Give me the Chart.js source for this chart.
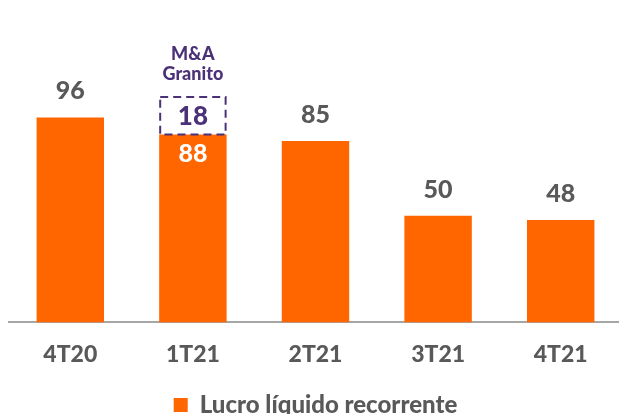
<!DOCTYPE html>
<html lang="pt-BR">
<head>
<meta charset="utf-8">
<title>Lucro líquido recorrente</title>
<script src="https://cdn.jsdelivr.net/npm/chart.js@4/dist/chart.umd.min.js"></script>
<style>
  html, body { margin: 0; padding: 0; background: #fff; overflow: hidden; }
  #wrap { width: 623px; height: 414px; }
</style>
</head>
<body>
<div id="wrap"><canvas id="grafico" width="623" height="414"></canvas></div>
<script>
// --- DADOS ---
const trimestres = ['4T20', '1T21', '2T21', '3T21', '4T21'];
const lucroRecorrente = [96, 88, 85, 50, 48];
const mnaGranito = [null, 18, null, null, null];
const rotuloGranito = ['M&A', 'Granito'];

const LARANJA = '#ff6600';
const CINZA = '#595959';
const ROXO = '#4b3178';
const FONTE = 'Lato';

// --- RÓTULOS E CAIXA TRACEJADA ---
const rotulosPlugin = {
    id: 'rotulos',
    afterDatasetsDraw(chart) {
        const ctx = chart.ctx;
        const barras = chart.getDatasetMeta(0).data;
        const extras = chart.getDatasetMeta(1).data;
        ctx.save();
        ctx.textAlign = 'center';
        ctx.textBaseline = 'alphabetic';

        barras.forEach((bar, i) => {
            const temExtra = mnaGranito[i] != null;
            ctx.font = `900 25px ${FONTE}`;
            if (temExtra) {
                ctx.fillStyle = '#ffffff';
                ctx.fillText(String(lucroRecorrente[i]), bar.x, bar.y + 27);
            } else {
                ctx.fillStyle = CINZA;
                ctx.fillText(String(lucroRecorrente[i]), bar.x, bar.y - 18);
            }
        });

        extras.forEach((el, i) => {
            if (mnaGranito[i] == null) return;
            const esq = el.x - el.width / 2;
            const topo = el.y;
            const alt = el.base - el.y;
            ctx.strokeStyle = ROXO;
            ctx.lineWidth = 2;
            ctx.setLineDash([8, 5]);
            ctx.strokeRect(esq + 1, topo + 1, el.width - 2, alt - 1);
            ctx.setLineDash([]);

            ctx.fillStyle = ROXO;
            ctx.font = `900 26px ${FONTE}`;
            ctx.fillText(String(mnaGranito[i]), el.x, topo + alt / 2 + 10);

            ctx.font = `900 18px ${FONTE}`;
            ctx.fillText(rotuloGranito[0], el.x, topo - 36);
            ctx.fillText(rotuloGranito[1], el.x, topo - 16);
        });
        ctx.restore();
    }
};

new Chart(document.getElementById('grafico'), {
    type: 'bar',
    data: {
        labels: trimestres,
        datasets: [
            {
                label: 'Lucro líquido recorrente',
                data: lucroRecorrente,
                backgroundColor: LARANJA,
                borderWidth: 0,
                barPercentage: 0.55,
                categoryPercentage: 1
            },
            {
                label: 'M&A Granito',
                data: mnaGranito,
                backgroundColor: 'rgba(0,0,0,0)',
                borderWidth: 0,
                barPercentage: 0.55,
                categoryPercentage: 1
            }
        ]
    },
    options: {
        responsive: false,
        animation: false,
        // legenda encostada na borda de baixo
        layout: { padding: { left: 9, right: 1, top: 0, bottom: -13 } },
        scales: {
            x: {
                stacked: true,
                grid: { display: false },
                border: { display: true, color: '#a6a6a6', width: 2 },
                ticks: {
                    color: CINZA,
                    font: { family: FONTE, size: 23, weight: '900' },
                    padding: 10
                },
                afterFit: (escala) => { escala.height += 13; }
            },
            y: {
                stacked: true,
                display: false,
                min: 0,
                max: 151
            }
        },
        plugins: {
            tooltip: { enabled: false },
            legend: {
                position: 'bottom',
                labels: {
                    filter: item => item.datasetIndex === 0,
                    color: CINZA,
                    boxWidth: 14,
                    boxHeight: 14,
                    padding: 2,
                    font: { family: FONTE, size: 24, weight: '900' }
                }
            }
        }
    },
    plugins: [rotulosPlugin]
});
</script>
</body>
</html>
